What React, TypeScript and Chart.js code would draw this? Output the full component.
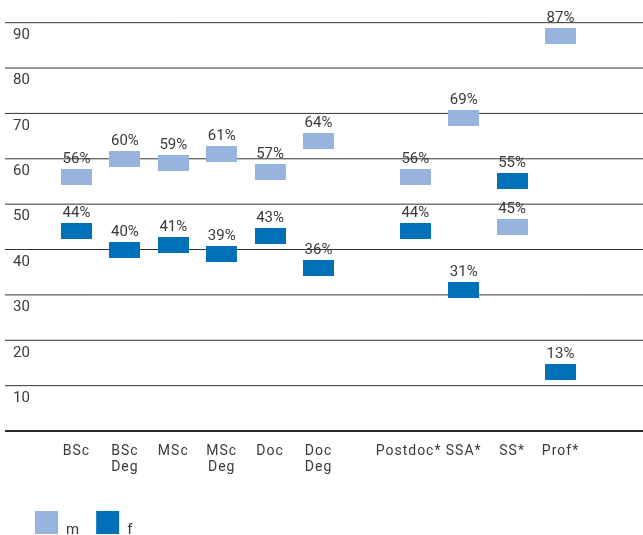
import React, { useEffect, useRef } from 'react';
import { Chart, registerables } from 'chart.js';

Chart.register(...registerables);

// ---- data ----
const CATEGORIES: string[][] = [
  ['BSc'],
  ['BSc', 'Deg'],
  ['MSc'],
  ['MSc', 'Deg'],
  ['Doc'],
  ['Doc', 'Deg'],
  [''],
  ['Postdoc*   '],
  ['SSA*'],
  ['SS*'],
  ['Prof*'],
];
const M_VALUES: (number | null)[] = [56, 60, 59, 61, 57, 64, null, 56, 69, 45, 87];
const F_VALUES: (number | null)[] = [44, 40, 41, 39, 43, 36, null, 44, 31, 55, 13];
const Y_TICKS: number[] = [10, 20, 30, 40, 50, 60, 70, 80, 90];
const SERIES_NAMES: string[] = ['m', 'f'];

// ---- styles ----
const FONT = 'Roboto, "Noto Sans", "DejaVu Sans", sans-serif';
const TEXT = '#3a3a3a';
const LIGHT = '#97b4de';
const DARK = '#0071b9';
const BAR_W = 31;
const BAR_H = 16;

function makeSwatch(color: string): HTMLCanvasElement {
  const c = document.createElement('canvas');
  c.width = BAR_W;
  c.height = BAR_H;
  const g = c.getContext('2d')!;
  g.fillStyle = color;
  g.fillRect(0, 0, BAR_W, BAR_H);
  return c;
}

const customPlugin = {
  id: 'customDecor',
  beforeDraw(chart: any) {
    (chart.ctx as any).letterSpacing = '1px';
  },
  beforeDatasetsDraw(chart: any) {
    const ctx = chart.ctx as CanvasRenderingContext2D;
    (ctx as any).letterSpacing = '0px';
    const y = chart.scales.y;
    ctx.save();
    ctx.strokeStyle = '#333333';
    ctx.lineWidth = 1;
    for (const v of Y_TICKS) {
      const py = y.getPixelForValue(v);
      ctx.beginPath();
      ctx.moveTo(5, py);
      ctx.lineTo(chart.width, py);
      ctx.stroke();
    }
    const p0 = y.getPixelForValue(0);
    ctx.lineWidth = 2;
    ctx.strokeStyle = '#2a2a2a';
    ctx.beginPath();
    ctx.moveTo(5, p0);
    ctx.lineTo(chart.width, p0);
    ctx.stroke();

    ctx.fillStyle = TEXT;
    ctx.font = `15px ${FONT}`;
    ctx.textAlign = 'left';
    ctx.textBaseline = 'alphabetic';
    for (const v of Y_TICKS) {
      const py = y.getPixelForValue(v);
      ctx.fillText(String(v), 13, py + 16.3);
    }
    ctx.restore();
  },
  afterDatasetsDraw(chart: any) {
    const ctx = chart.ctx as CanvasRenderingContext2D;
    ctx.save();
    (ctx as any).letterSpacing = '0px';
    ctx.fillStyle = TEXT;
    ctx.font = `15px ${FONT}`;
    ctx.textAlign = 'center';
    ctx.textBaseline = 'alphabetic';
    chart.data.datasets.forEach((ds: any, i: number) => {
      const meta = chart.getDatasetMeta(i);
      meta.data.forEach((pt: any, j: number) => {
        const v = ds.data[j];
        if (v === null || v === undefined) return;
        ctx.fillText(`${v}%`, pt.x, pt.y - BAR_H / 2 - 6);
      });
    });
    ctx.restore();
  },
  afterDraw(chart: any) {
    const ctx = chart.ctx as CanvasRenderingContext2D;
    ctx.save();
    (ctx as any).letterSpacing = '0px';
    ctx.font = `15px ${FONT}`;
    ctx.textAlign = 'left';
    ctx.textBaseline = 'alphabetic';
    let x = 35;
    chart.data.datasets.forEach((ds: any) => {
      ctx.fillStyle = ds.backgroundColor;
      ctx.fillRect(x, 511, 23, 23);
      const tx = x + 31;
      ctx.fillStyle = TEXT;
      ctx.fillText(ds.label, tx, 534);
      x = tx + ctx.measureText(ds.label).width + 17;
    });
    ctx.restore();
  },
};

export default function App() {
  const ref = useRef<HTMLCanvasElement | null>(null);

  useEffect(() => {
    if (!ref.current) return;
    const chart = new Chart(ref.current, {
      type: 'line',
      data: {
        labels: CATEGORIES as any,
        datasets: [
          {
            label: SERIES_NAMES[0],
            data: M_VALUES,
            showLine: false,
            pointStyle: makeSwatch(LIGHT) as any,
            pointRadius: 8,
            backgroundColor: LIGHT,
            borderColor: LIGHT,
          },
          {
            label: SERIES_NAMES[1],
            data: F_VALUES,
            showLine: false,
            pointStyle: makeSwatch(DARK) as any,
            pointRadius: 8,
            backgroundColor: DARK,
            borderColor: DARK,
          },
        ],
      },
      options: {
        animation: false,
        responsive: false,
        devicePixelRatio: 1,
        layout: { autoPadding: false, padding: { left: 52.3, right: 58.3, top: 0, bottom: 47 } },
        plugins: {
          legend: { display: false },
          tooltip: { enabled: false },
        },
        scales: {
          x: {
            type: 'category',
            offset: true,
            grid: { display: false, drawTicks: false },
            border: { display: false },
            ticks: {
              autoSkip: false,
              maxRotation: 0,
              minRotation: 0,
              padding: 12.5,
              color: TEXT,
              font: { family: FONT, size: 14, lineHeight: '16px' as any },
            },
          },
          y: {
            display: false,
            min: 0,
            max: 95,
          },
        },
      },
      plugins: [customPlugin],
    });
    return () => chart.destroy();
  }, []);

  return (
    <div style={{ position: 'absolute', left: 0, top: 0, width: 643, height: 535 }}>
      <canvas ref={ref} width={643} height={535} style={{ display: 'block' }} />
    </div>
  );
}
